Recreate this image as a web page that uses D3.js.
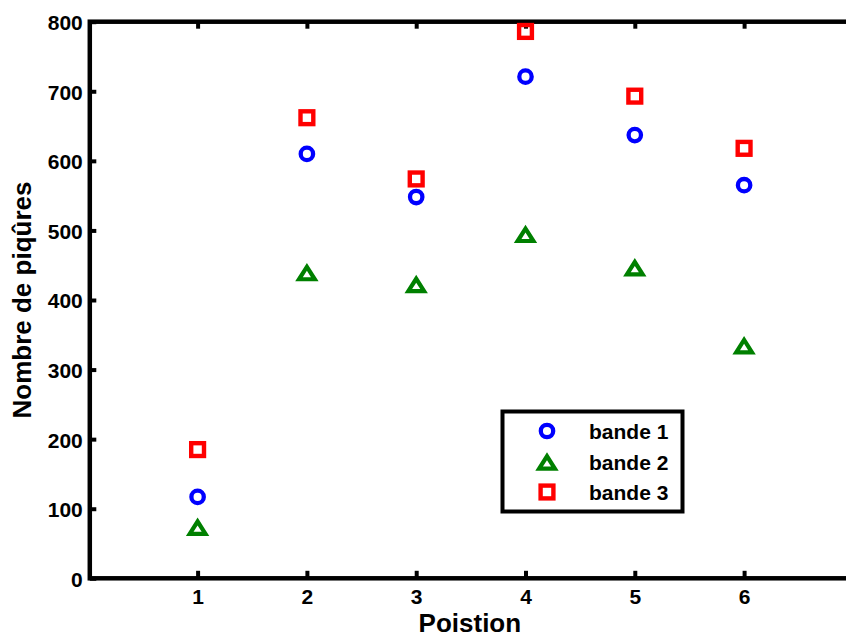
<!DOCTYPE html>
<html>
<head>
<meta charset="utf-8">
<script src="https://cdn.jsdelivr.net/npm/d3@7"></script>
<style>
  html, body { margin: 0; padding: 0; background: #fff; }
  svg { display: block; }
  text { font-family: "Liberation Sans", Arial, Helvetica, sans-serif; font-weight: bold; fill: #000; }
</style>
</head>
<body>
<svg id="chart" width="846" height="634"></svg>
<script>
// ---- Data ----
const positions = [1, 2, 3, 4, 5, 6];
const bande1 = [117, 610, 548, 721, 637, 565];
const bande2 = [74, 440, 423, 495, 447, 335];
const bande3 = [185, 662, 574, 786, 693, 618];
const seriesNames = ["bande 1", "bande 2", "bande 3"];
const xTicks = [1, 2, 3, 4, 5, 6];
const yTicks = [0, 100, 200, 300, 400, 500, 600, 700, 800];
const xLabel = "Poistion";
const yLabel = "Nombre de piqûres";

// ---- Layout ----
const svg = d3.select("#chart");
svg.append("rect").attr("width", 846).attr("height", 634).attr("fill", "#fff");

const x = d3.scaleLinear().domain([0, 7]).range([88.3, 853.4]);
const y = d3.scaleLinear().domain([0, 800]).range([578.3, 21.7]);

const colors = ["#0000ff", "#008000", "#ff0000"];
const shapes = ["circle", "triangle", "square"];
const tickFont = 21;

// ---- Axes ticks ----
const xAxis = d3.axisBottom(x).tickValues(xTicks).tickFormat(d3.format("d"))
  .tickSizeInner(-7.5).tickSizeOuter(0).tickPadding(11);
const gx = svg.append("g").attr("transform", `translate(0,${y(0)})`).call(xAxis);
const xAxisTop = d3.axisTop(x).tickValues(xTicks).tickSizeInner(-7).tickSizeOuter(0).tickFormat("");
const gxt = svg.append("g").attr("transform", `translate(0,${y(800)})`).call(xAxisTop);

const yAxis = d3.axisLeft(y).tickValues(yTicks).tickFormat(d3.format("d"))
  .tickSizeInner(-6.5).tickSizeOuter(0).tickPadding(7);
const gy = svg.append("g").attr("transform", `translate(${x(0) + 1.5},0)`).call(yAxis);

[gx, gxt, gy].forEach(g => {
  g.select(".domain").remove();
  g.selectAll(".tick line").attr("stroke", "#000").attr("stroke-width", 4);
  g.selectAll(".tick text").attr("font-size", tickFont).attr("font-family", "Liberation Sans, Arial, sans-serif")
    .attr("font-weight", "bold").attr("fill", "#000");
});
gy.selectAll(".tick text").attr("dy", "0.38em");

// ---- Frame ----
svg.append("rect")
  .attr("x", x(0) + 1.5).attr("y", y(800))
  .attr("width", x(7) - x(0) - 1.5).attr("height", y(0) - y(800))
  .attr("fill", "none").attr("stroke", "#000").attr("stroke-width", 4.5);

// ---- Marker drawing ----
function trianglePath(hw, hh, t) {
  const outer = `M0,${-hh}L${hw},${hh}L${-hw},${hh}Z`;
  const s = Math.atan2(hw, 2 * hh);
  const apexGap = t / Math.sin(s);
  const innerTop = -hh + apexGap;
  const innerBot = hh - t;
  const scale = (innerBot - innerTop) / (2 * hh);
  const ihw = hw * scale;
  const inner = `M0,${innerTop}L${ihw},${innerBot}L${-ihw},${innerBot}Z`;
  return outer + inner;
}

function drawMarker(g, shape, color) {
  if (shape === "circle") {
    g.append("circle").attr("r", 6.2).attr("fill", "none").attr("stroke", color).attr("stroke-width", 4.3);
  } else if (shape === "square") {
    g.append("rect").attr("x", -6.4).attr("y", -6.4).attr("width", 12.8).attr("height", 12.8)
      .attr("fill", "none").attr("stroke", color).attr("stroke-width", 4.4);
  } else {
    g.append("path").attr("d", trianglePath(11.7, 9.2, 4.2)).attr("fill", color).attr("fill-rule", "evenodd");
  }
}

const allSeries = [bande1, bande2, bande3];
allSeries.forEach((vals, i) => {
  const pts = positions.map((p, j) => ({ p, v: vals[j] }));
  const g = svg.append("g");
  g.selectAll("g.pt").data(pts).enter().append("g")
    .attr("class", "pt")
    .attr("transform", d => `translate(${x(d.p)},${y(d.v)})`)
    .each(function () { drawMarker(d3.select(this), shapes[i], colors[i]); });
});

// ---- Axis labels ----
svg.append("text")
  .attr("x", (x(0) + x(7)) / 2 - 1).attr("y", 632)
  .attr("text-anchor", "middle").attr("font-size", 26)
  .text(xLabel);

svg.append("text")
  .attr("transform", `translate(31,${(y(0) + y(800)) / 2}) rotate(-90)`)
  .attr("text-anchor", "middle").attr("font-size", 26)
  .text(yLabel);

// ---- Legend ----
const legend = svg.append("g");
legend.append("rect")
  .attr("x", 502.5).attr("y", 411.5).attr("width", 180).attr("height", 100)
  .attr("fill", "#fff").attr("stroke", "#000").attr("stroke-width", 4);
const rowY = [431, 461.5, 492];
seriesNames.forEach((name, i) => {
  const mg = legend.append("g").attr("transform", `translate(547,${rowY[i]})`);
  drawMarker(mg, shapes[i], colors[i]);
  legend.append("text").attr("x", 589).attr("y", rowY[i] + 8)
    .attr("font-size", 21).text(name);
});
</script>
</body>
</html>
